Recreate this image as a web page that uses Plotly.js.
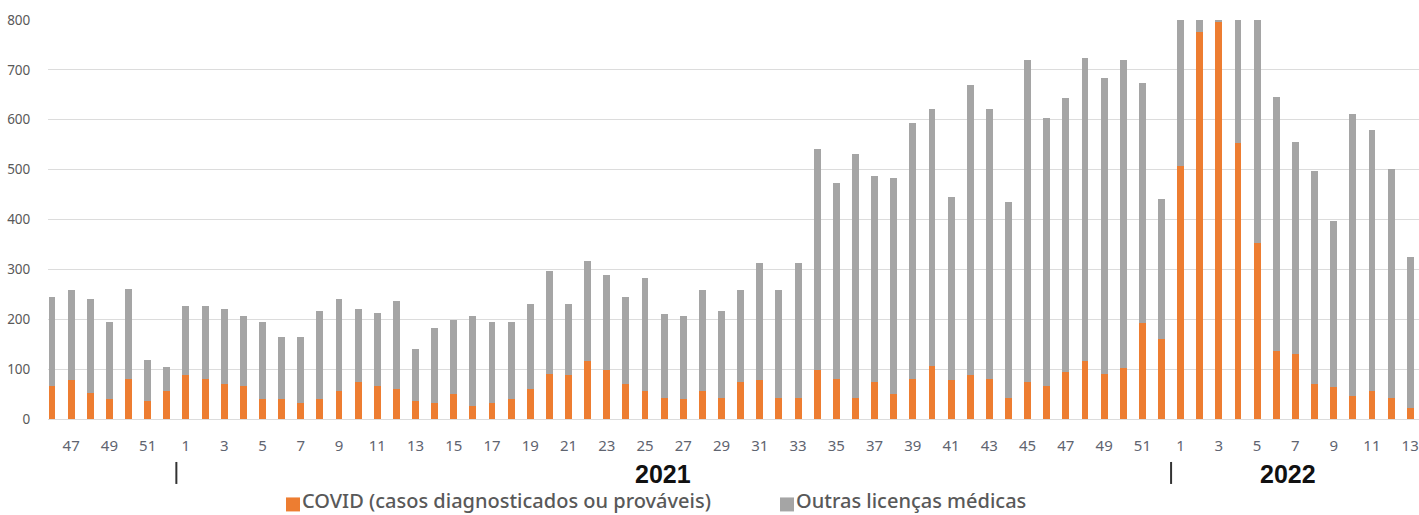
<!DOCTYPE html>
<html>
<head>
<meta charset="utf-8">
<script src="https://cdn.plot.ly/plotly-3.0.1.min.js"></script>
<style>
html,body{margin:0;padding:0;background:#fff;}
#chart{width:1419px;height:515px;}
</style>
</head>
<body>
<div id="chart"></div>
<script>
// Week categories (epidemiological weeks)
const weeks2020 = [46,47,48,49,50,51,52];
const weeks2021 = [1,2,3,4,5,6,7,8,9,10,11,12,13,14,15,16,17,18,19,20,21,22,23,24,25,26,
                   27,28,29,30,31,32,33,34,35,36,37,38,39,40,41,42,43,44,45,46,47,48,49,50,51,52];
const weeks2022 = [1,2,3,4,5,6,7,8,9,10,11,12,13];

// COVID (diagnosed or probable) per week
const covid2020 = [67,78,53,40,81,37,57];
const covid2021 = [88,81,71,67,40,40,33,40,57,74,67,60,36,33,50,26,33,40,60,91,88,116,99,71,57,43,
                   40,57,43,74,78,43,43,99,81,43,74,50,81,106,78,88,81,43,74,67,95,116,91,102,192,161];
const covid2022 = [508,775,797,553,352,137,130,71,64,47,57,43,23];

// Total leaves per week (COVID + other); 2022 weeks 1-5 exceed the 800 axis limit
const total2020 = [244,258,240,195,261,119,105];
const total2021 = [226,226,220,206,195,164,164,216,240,220,213,237,140,182,199,206,195,195,230,296,230,317,289,244,282,210,
                   206,258,216,258,313,258,313,542,473,532,487,483,594,622,445,670,622,435,719,604,643,723,684,719,674,441];
const total2022 = [900,880,870,930,1000,646,556,497,397,612,580,501,324];

const yearLabels = ['2021','2022'];
const seriesNames = ['COVID (casos diagnosticados ou prováveis)','Outras licenças médicas'];
const colors = ['#ED7D31','#A5A5A5'];

// Build categories
const cats = [], tickText = [];
weeks2020.forEach(w => { cats.push('2020-' + w); tickText.push(String(w)); });
weeks2021.forEach(w => { cats.push('2021-' + w); tickText.push(String(w)); });
weeks2022.forEach(w => { cats.push('2022-' + w); tickText.push(String(w)); });
const covid = covid2020.concat(covid2021, covid2022);
const total = total2020.concat(total2021, total2022);
const outras = total.map((t, i) => t - covid[i]);

const tickvals = [], ticktext = [];
cats.forEach((c, i) => { if (i % 2 === 1) { tickvals.push(c); ticktext.push(tickText[i]); } });

const traces = [
  {type:'bar', x:cats, y:covid, name:seriesNames[0], marker:{color:colors[0]}, showlegend:false, hoverinfo:'y'},
  {type:'bar', x:cats, y:outras, name:seriesNames[1], marker:{color:colors[1]}, showlegend:false, hoverinfo:'y'}
];

// plot area geometry: left 48, right 1419, top ~19.7, bottom 419
const plotL = 48, plotW = 1371, plotT = 19.7, plotH = 399.3;
const px = x => (x - plotL) / plotW;
const py = y => (plotT + plotH - y) / plotH;

const i2021 = weeks2020.length;                      // index of 2021 week 1
const i2022 = weeks2020.length + weeks2021.length;   // index of 2022 week 1

const layout = {
  width:1419, height:515,
  margin:{l:48, r:0, t:19.7, b:96, pad:0},
  paper_bgcolor:'#fff', plot_bgcolor:'#fff',
  barmode:'stack',
  bargap:0.64,
  showlegend:false,
  font:{family:'"Noto Sans", "Open Sans", sans-serif', color:'#595959'},
  xaxis:{
    type:'category',
    range:[-0.21, 71.46],
    tickvals:tickvals, ticktext:ticktext,
    tickfont:{size:15, color:'#5f6470'},
    ticks:'outside', ticklen:13, tickcolor:'rgba(0,0,0,0)',
    showgrid:false, zeroline:false, showline:false,
    fixedrange:true
  },
  yaxis:{
    range:[0,800],
    dtick:100, tick0:0,
    tickfont:{size:13.5, color:'#595959'},
    showgrid:true, gridcolor:'#dcdcdc', gridwidth:1,
    zeroline:true, zerolinecolor:'#dcdcdc', zerolinewidth:1,
    ticks:'outside', ticklen:14, tickcolor:'rgba(0,0,0,0)',
    showline:false, fixedrange:true
  },
  shapes:[
    {type:'line', xref:'x', yref:'paper', x0:i2021-0.5, x1:i2021-0.5, y0:py(462), y1:py(484),
     line:{color:'#333', width:2}},
    {type:'line', xref:'x', yref:'paper', x0:i2022-0.5, x1:i2022-0.5, y0:py(462), y1:py(484),
     line:{color:'#333', width:2}},
    {type:'rect', xref:'paper', yref:'paper', x0:px(286), x1:px(300), y0:py(497.5), y1:py(511.5),
     fillcolor:colors[0], line:{width:0}},
    {type:'rect', xref:'paper', yref:'paper', x0:px(780), x1:px(794), y0:py(497.5), y1:py(511.5),
     fillcolor:colors[1], line:{width:0}}
  ],
  annotations:[
    {xref:'x', yref:'paper', x:31.94, y:py(474), text:'<b>' + yearLabels[0] + '</b>', showarrow:false,
     font:{family:'"Liberation Sans", Arial, sans-serif', size:25, color:'#111'}, xanchor:'center', yanchor:'middle'},
    {xref:'x', yref:'paper', x:64.6, y:py(474), text:'<b>' + yearLabels[1] + '</b>', showarrow:false,
     font:{family:'"Liberation Sans", Arial, sans-serif', size:25, color:'#111'}, xanchor:'center', yanchor:'middle'},
    {xref:'paper', yref:'paper', x:px(301), y:py(515), text:seriesNames[0], showarrow:false,
     font:{size:20, color:'#595959', weight:500}, xanchor:'left', yanchor:'bottom', borderpad:0},
    {xref:'paper', yref:'paper', x:px(795), y:py(515), text:seriesNames[1], showarrow:false,
     font:{size:20, color:'#595959', weight:500}, xanchor:'left', yanchor:'bottom', borderpad:0}
  ]
};

Plotly.newPlot('chart', traces, layout, {displayModeBar:false, staticPlot:true});
</script>
</body>
</html>
